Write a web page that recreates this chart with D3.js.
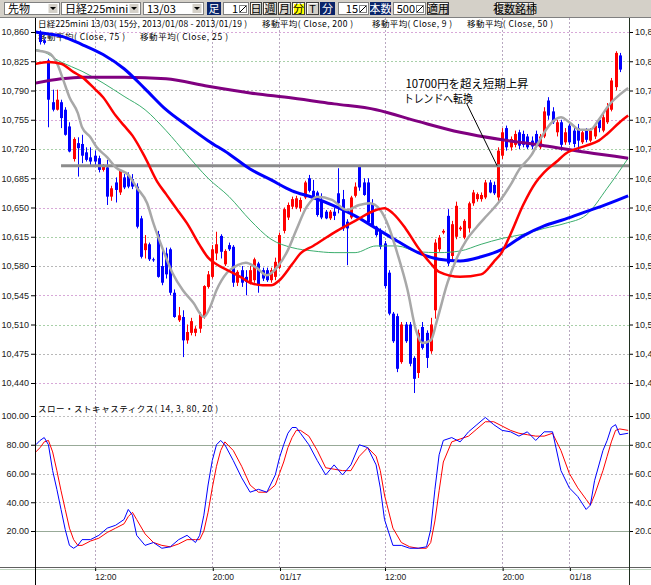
<!DOCTYPE html>
<html>
<head>
<meta charset="utf-8">
<script src="https://cdn.jsdelivr.net/npm/d3@7"></script>
<style>
  body { margin: 0; background: #fff; }
  svg { display: block; font-family: "Noto Sans CJK JP", sans-serif; }
</style>
</head>
<body>
<div id="chart"></div>
<script>
// 15 min bars, index 0 = first visible bar ; [open, high, low, close]
const candles = [
  [10858,10862,10845,10848],[10850,10852,10845,10847],[10826,10828,10746,10779],[10776,10791,10765,10767],
  [10767,10791,10766,10779],[10776,10779,10745,10757],[10767,10770,10736,10737],[10747,10752,10716,10717],
  [10708,10734,10705,10732],[10727,10734,10687,10721],[10726,10737,10703,10712],[10716,10722,10705,10707],
  [10710,10722,10700,10705],[10712,10718,10700,10705],[10709,10712,10692,10695],[10695,10702,10693,10701],
  [10698,10707,10653,10663],[10663,10676,10658,10673],[10680,10686,10656,10671],[10668,10696,10665,10694],
  [10686,10690,10672,10674],[10689,10692,10673,10675],[10684,10690,10672,10675],[10675,10679,10625,10627],
  [10637,10640,10589,10591],[10599,10617,10589,10607],[10606,10608,10586,10588],[10588,10590,10585,10587],
  [10618,10622,10566,10567],[10580,10603,10557,10560],[10595,10602,10565,10570],[10600,10602,10545,10548],
  [10548,10552,10518,10519],[10515,10531,10513,10521],[10519,10527,10471,10491],[10491,10510,10487,10501],
  [10500,10518,10497,10514],[10500,10508,10496,10505],[10505,10525,10500,10522],[10519,10557,10517,10556],
  [10555,10574,10553,10570],[10567,10605,10565,10600],[10595,10621,10587,10606],[10616,10618,10589,10597],
  [10582,10600,10580,10598],[10605,10608,10598,10600],[10603,10605,10555,10560],[10560,10575,10556,10573],
  [10575,10580,10555,10560],[10567,10575,10545,10561],[10561,10580,10558,10575],[10563,10590,10560,10588],
  [10583,10585,10548,10557],[10575,10578,10562,10565],[10575,10578,10561,10563],[10563,10578,10560,10575],
  [10567,10590,10563,10585],[10578,10620,10576,10617],[10622,10650,10619,10648],[10638,10656,10635,10653],
  [10651,10663,10648,10660],[10650,10664,10648,10661],[10649,10662,10645,10659],[10662,10682,10660,10680],
  [10685,10689,10668,10670],[10670,10683,10659,10660],[10668,10670,10639,10641],[10658,10667,10636,10638],
  [10645,10647,10636,10637],[10637,10647,10635,10645],[10645,10650,10635,10640],[10667,10697,10643,10655],
  [10660,10671,10622,10625],[10633,10636,10581,10625],[10638,10664,10636,10662],[10664,10680,10662,10675],
  [10700,10701,10670,10674],[10680,10685,10664,10665],[10680,10685,10630,10632],[10655,10660,10627,10629],
  [10627,10628,10615,10617],[10622,10625,10600,10603],[10607,10610,10553,10556],[10572,10575,10521,10523],
  [10523,10525,10488,10490],[10520,10523,10453,10457],[10465,10513,10463,10510],[10510,10513,10488,10490],
  [10510,10513,10460,10463],[10470,10472,10428,10445],[10452,10504,10446,10500],[10507,10513,10480,10482],
  [10500,10503,10458,10470],[10478,10518,10475,10510],[10527,10612,10517,10608],[10600,10617,10597,10614],
  [10620,10624,10618,10622],[10640,10648,10580,10583],[10592,10634,10587,10630],[10615,10657,10612,10652],
  [10624,10628,10622,10626],[10614,10636,10612,10634],[10625,10657,10620,10655],[10655,10671,10652,10668],
  [10660,10668,10657,10666],[10660,10668,10657,10665],[10662,10683,10660,10680],[10680,10683,10667,10668],
  [10677,10681,10665,10667],[10662,10722,10658,10718],[10712,10745,10708,10740],[10745,10748,10718,10722],
  [10722,10735,10718,10732],[10725,10742,10722,10738],[10740,10743,10720,10724],[10738,10742,10722,10725],
  [10735,10738,10720,10722],[10730,10735,10720,10723],[10738,10742,10722,10725],[10722,10738,10720,10735],
  [10735,10770,10733,10765],[10778,10782,10755,10760],[10765,10770,10750,10752],[10740,10755,10735,10752],
  [10752,10755,10718,10725],[10728,10745,10725,10740],[10748,10752,10725,10728],[10742,10746,10722,10726],
  [10745,10750,10718,10730],[10728,10742,10726,10740],[10742,10745,10728,10731],[10730,10745,10728,10742],
  [10735,10750,10732,10748],[10755,10758,10740,10745],[10742,10762,10740,10758],[10752,10775,10750,10770],
  [10767,10805,10765,10802],[10794,10837,10790,10835],[10832,10835,10812,10815]
];

// moving averages: [bar index, price]
const ma200 = [[-1,10799],[5,10804],[10,10806],[20,10806],[30,10804],[40,10795],[50,10787],[60,10781],
  [70,10774],[80,10767],[90,10753],[100,10740],[110,10731],[120,10724],[130,10716],[140,10709]];
const ma75 = [[-1,10860],[0,10859],[5,10855],[10,10845],[15,10833],[20,10816],[25,10792],[30,10767],
  [35,10748],[40,10730],[45,10714],[50,10696],[55,10683],[60,10670],[65,10662],[70,10652],[75,10640],
  [80,10625],[85,10610],[90,10596],[95,10588],[100,10586],[105,10591],[110,10600],[115,10616],
  [120,10628],[125,10636],[130,10645],[135,10654],[140,10664]];
const ma25 = [[-1,10822],[2,10824],[5,10822],[8,10812],[10,10806],[13,10792],[15,10782],[18,10760],
  [20,10748],[22,10736],[25,10710],[28,10680],[30,10666],[33,10645],[35,10631],[38,10605],[40,10590],
  [42,10582],[45,10574],[48,10566],[50,10560],[53,10557],[55,10557],[57,10563],[60,10582],[62,10595],
  [65,10604],[70,10620],[75,10634],[80,10647],[82,10649],[84,10643],[87,10625],[90,10602],[93,10583],
  [95,10573],[100,10567],[105,10570],[108,10585],[110,10597],[112,10618],[115,10653],[118,10680],
  [120,10692],[123,10705],[125,10714],[130,10724],[133,10730],[135,10738],[138,10752],[140,10760]];
const ma50 = [[-1,10839],[0,10838],[5,10824],[10,10813],[15,10799],[20,10783],[25,10767],[30,10742],
  [35,10713],[40,10685],[45,10663],[50,10635],[55,10612],[60,10602],[65,10598],[70,10596],[75,10596],
  [80,10604],[85,10604],[90,10597],[95,10596],[100,10598],[105,10606],[110,10613],[115,10618],
  [120,10625],[125,10631],[130,10641],[135,10673],[140,10709]];
const ma9 = [[-1,10838],[2,10835],[4,10823],[5.5,10803],[7,10782],[9,10763],[10,10746],[12,10734],
  [13.5,10722],[16,10710],[18,10698],[21,10689],[23,10674],[25.5,10655],[27,10631],[29,10603],
  [31.5,10572],[34,10551],[36.5,10536],[39,10519],[40.5,10531],[42,10551],[44.5,10572],[47,10581],
  [49,10584],[51.5,10578],[54,10569],[56.5,10579],[59,10599],[61,10623],[63.5,10651],[66,10663],
  [69.5,10659],[73,10647],[76,10653],[78.5,10655],[81,10647],[83,10627],[85,10596],[87.5,10551],
  [89.5,10503],[91,10488],[93,10491],[94.5,10515],[97,10560],[99,10587],[101.5,10611],[104,10627],
  [106.5,10641],[109,10655],[112,10677],[114,10695],[117,10713],[119,10731],[121.5,10750],
  [124,10758],[126,10752],[128.5,10743],[131,10743],[133,10755],[135.5,10773],[138,10785],[140,10793]];

// slow stochastics (14,3,80,20): [bar index, value]
const stochK = [[-1,80],[0,83],[1,85],[2,80],[3,62],[4,49],[5,35],[6,21],[7,10],[8,8],[9,10],[10,14],
  [12,14],[14,17],[16,22],[18,24],[20,28],[21,35],[22,31],[23,17],[25,10],[27,12],[29,8],[31,9],[33,14],
  [35,17],[37,12],[38,17],[39,31],[40,52],[41,69],[42,80],[43,83],[44,80],[46,69],[48,57],[50,47],
  [52,49],[54,47],[56,59],[57,71],[58,80],[59,88],[60,92],[61,92],[62,88],[64,80],[66,69],[68,59],
  [70,66],[72,59],[74,66],[76,80],[78,78],[80,66],[81,50],[82,28],[84,10],[86,10],[88,8],[90,8],
  [92,9],[93,21],[94,49],[95,73],[96,83],[98,85],[100,82],[102,89],[104,94],[106,99],[108,94],
  [110,90],[112,89],[114,86],[116,89],[118,83],[120,89],[122,89],[124,62],[126,50],[128,44],[130,35],
  [131,38],[132,55],[134,76],[135,83],[136,92],[137,94],[138,87],[140,88]];
const stochD = [[-1,75],[0,78],[1,82],[2,83],[3,75],[4,62],[5,48],[6,35],[7,22],[8,14],[9,10],[10,10],
  [12,13],[14,15],[16,19],[18,22],[20,25],[21,30],[22,33],[23,28],[25,18],[27,12],[29,10],[31,9],
  [33,11],[35,14],[37,14],[38,14],[39,20],[40,33],[41,50],[42,65],[43,76],[44,82],[46,76],[48,65],
  [50,52],[52,47],[54,47],[56,52],[57,60],[58,68],[59,78],[60,85],[61,90],[62,90],[64,86],[66,76],
  [68,64],[70,63],[72,62],[74,62],[76,72],[78,78],[80,72],[81,62],[82,45],[84,22],[86,12],[88,9],
  [90,8],[92,8],[93,12],[94,27],[95,48],[96,68],[98,82],[100,84],[102,86],[104,91],[106,96],[108,96],
  [110,93],[112,90],[114,88],[116,87],[118,86],[120,86],[122,88],[124,76],[126,60],[128,50],[130,42],
  [131,38],[132,45],[134,62],[135,72],[136,82],[137,90],[138,91],[140,90]];

const priceTicks = [10440,10475,10510,10545,10580,10615,10650,10685,10720,10755,10790,10825,10860];
const stochTicks = [20,40,60,80,100];
const stochSolid = [80,20];
const timeTickIdx = [13,41,57,82,110,126];
const timeTickLabels = ["12:00","20:00","01/17","12:00","20:00","01/18"];
const trendLevel = {price: 10700, from: 5, to: 140.2};
const noteLines = ["10700円を超え短期上昇", "トレンドへ転換"];
const notePos = [[87, 10793], [86.6, 10775]];
const noteArrow = [[101.6, 10774], [108.8, 10700]];

const W = 651, H = 585;
const L = 35, R = 629;
const svg = d3.select("#chart").append("svg").attr("width", W).attr("height", H);

const x = d3.scaleLinear().domain([-1.2, 140.2]).range([L, R]);
const y = d3.scaleLinear().domain([10440, 10860]).range([383, 32]);
const ys = d3.scaleLinear().domain([0, 100]).range([559.75, 416]);

svg.append("rect").attr("width", W).attr("height", H).attr("fill", "#fff");

// ---- toolbar ----
const tb = svg.append("g").attr("font-size", 11);
tb.append("rect").attr("width", W).attr("height", 17).attr("fill", "#d4d0c8");
tb.append("line").attr("x1", 0).attr("x2", W).attr("y1", 17.5).attr("y2", 17.5).attr("stroke", "#808080");

function combo(label, x0, x1) {
  tb.append("rect").attr("x", x0 + .5).attr("y", 2.5).attr("width", x1 - x0).attr("height", 12)
    .attr("fill", "#fff").attr("stroke", "#808080");
  tb.append("text").attr("x", x0 + 4).attr("y", 13).text(label);
  tb.append("rect").attr("x", x1 - 11).attr("y", 3.5).attr("width", 10).attr("height", 10)
    .attr("fill", "#d4d0c8").attr("stroke", "#fff");
  tb.append("path").attr("d", `M${x1 - 9},7h6l-3,3z`).attr("fill", "#000");
}
function navy(label, x0, x1) {
  tb.append("rect").attr("x", x0).attr("y", 2).attr("width", x1 - x0).attr("height", 13).attr("fill", "#0a246a");
  tb.append("text").attr("x", (x0 + x1) / 2).attr("y", 13).attr("text-anchor", "middle")
    .attr("fill", "#fff").text(label);
}
function field(label, x0, x1) {
  tb.append("rect").attr("x", x0 + .5).attr("y", 2.5).attr("width", x1 - x0).attr("height", 12)
    .attr("fill", "#fff").attr("stroke", "#808080");
  tb.append("text").attr("x", x1 - 10).attr("y", 13).attr("text-anchor", "end").text(label);
  tb.append("rect").attr("x", x1 - 8.5).attr("y", 5.5).attr("width", 7).attr("height", 7)
    .attr("fill", "none").attr("stroke", "#808080");
  tb.append("line").attr("x1", x1 - 8).attr("y1", 12).attr("x2", x1 - 2).attr("y2", 6).attr("stroke", "#000");
}
function button(label, x0, x1, bg) {
  tb.append("rect").attr("x", x0 + .5).attr("y", 2.5).attr("width", x1 - x0).attr("height", 12)
    .attr("fill", bg || "#d4d0c8").attr("stroke", "#404040");
  tb.append("path").attr("d", `M${x0 + 1.5},14V3.5H${x1 - .5}`).attr("fill", "none").attr("stroke", "#fff");
  tb.append("text").attr("x", (x0 + x1) / 2 + .5).attr("y", 13).attr("text-anchor", "middle").text(label);
}
combo("先物", 4, 59);
combo("日経225mini", 61, 140);
combo("13/03", 143, 203);
navy("足", 207, 221);
field("1", 223, 248);
button("日", 250, 261);
button("週", 263, 276);
button("月", 278, 290);
button("分", 292, 304, "#ffff00");
button("T", 306, 318);
navy("分", 320, 335);
field("15", 338, 368);
navy("本数", 370, 391);
field("500", 393, 425);
button("適用", 427, 448);
button("複数銘柄", 496, 533);

// ---- grids ----
const grid = svg.append("g");
const gridCols = ["#d8a8d8", "#b8b8b8", "#a8d0a8"];
grid.selectAll(".hg").data(priceTicks).join("line")
  .attr("x1", L).attr("x2", R)
  .attr("y1", d => Math.round(y(d)) + .5).attr("y2", d => Math.round(y(d)) + .5)
  .attr("stroke", (d, i) => gridCols[i % 3]).attr("stroke-dasharray", "2,2");
grid.selectAll(".vg").data(timeTickIdx).join("line")
  .attr("x1", d => Math.round(x(d)) + .5).attr("x2", d => Math.round(x(d)) + .5)
  .attr("y1", 18).attr("y2", 567)
  .attr("stroke", "#b8a8c0").attr("stroke-dasharray", "2,2");
grid.selectAll(".sg").data(stochTicks).join("line")
  .attr("x1", L).attr("x2", R)
  .attr("y1", d => Math.round(ys(d)) + .5).attr("y2", d => Math.round(ys(d)) + .5)
  .attr("stroke", d => stochSolid.includes(d) ? "#98aa98" : "#c0c0c0")
  .attr("stroke-dasharray", d => stochSolid.includes(d) ? null : "2,2");

// ---- legend text ----
const leg = svg.append("g").attr("font-size", 8.5).attr("fill", "#000");
const legendItems = [
  ["日経225mini 13/03( 15分, 2013/01/08 - 2013/01/19 )", 38, 27, 209],
  ["移動平均( Close, 200 )", 262, 27, 91],
  ["移動平均( Close, 9 )", 372, 27, 80],
  ["移動平均( Close, 50 )", 467, 27, 86],
  ["移動平均( Close, 75 )", 38, 39.5, 87],
  ["移動平均( Close, 25 )", 140, 39.5, 88],
  ["スロー・ストキャスティクス( 14, 3, 80, 20 )", 38, 412, 180]
];
leg.selectAll("text").data(legendItems).join("text")
  .attr("x", d => d[1]).attr("y", d => d[2])
  .attr("textLength", d => d[3]).attr("lengthAdjust", "spacing")
  .text(d => d[0]);

// ---- price panel ----
svg.append("clipPath").attr("id", "pc").append("rect")
  .attr("x", L + 1).attr("y", 18).attr("width", R - L - 1).attr("height", 382);
const plot = svg.append("g").attr("clip-path", "url(#pc)");

const up = d => d[3] >= d[0];
plot.selectAll(".wick").data(candles).join("line")
  .attr("x1", (d, i) => Math.round(x(i)) + .5).attr("x2", (d, i) => Math.round(x(i)) + .5)
  .attr("y1", d => y(d[1])).attr("y2", d => y(d[2]))
  .attr("stroke", d => up(d) ? "#ff0000" : "#0000ff").attr("stroke-width", 1);
plot.selectAll(".body").data(candles).join("rect")
  .attr("x", (d, i) => Math.round(x(i)) - 1)
  .attr("width", 3)
  .attr("y", d => y(Math.max(d[0], d[3])))
  .attr("height", d => Math.max(1, y(Math.min(d[0], d[3])) - y(Math.max(d[0], d[3]))))
  .attr("fill", d => up(d) ? "#ff0000" : "#0000ff");

plot.append("line")
  .attr("x1", x(trendLevel.from)).attr("x2", x(trendLevel.to))
  .attr("y1", y(trendLevel.price)).attr("y2", y(trendLevel.price))
  .attr("stroke", "#8c8c8c").attr("stroke-width", 3);

const line = d3.line().x(d => x(d[0])).y(d => y(d[1])).curve(d3.curveMonotoneX);
const maSeries = [
  [ma50, "#3cae6e", 1],
  [ma200, "#800080", 3],
  [ma75, "#0000ff", 3],
  [ma9, "#a8a8a8", 2.5],
  [ma25, "#ff0000", 2.5]
];
plot.selectAll(".ma").data(maSeries).join("path")
  .attr("d", d => line(d[0])).attr("fill", "none")
  .attr("stroke", d => d[1]).attr("stroke-width", d => d[2]).attr("stroke-linejoin", "round");

// annotation
const note = svg.append("g").attr("font-size", 11.5).attr("fill", "#000");
note.selectAll("text").data(noteLines).join("text")
  .attr("x", (d, i) => x(notePos[i][0])).attr("y", (d, i) => y(notePos[i][1]))
  .attr("textLength", (d, i) => i === 0 ? 123 : 69).attr("lengthAdjust", "spacingAndGlyphs")
  .text(d => d);
note.append("line")
  .attr("x1", x(noteArrow[0][0])).attr("y1", y(noteArrow[0][1]))
  .attr("x2", x(noteArrow[1][0])).attr("y2", y(noteArrow[1][1]))
  .attr("stroke", "#000").attr("stroke-width", 1);

// ---- stochastics ----
svg.append("clipPath").attr("id", "sc").append("rect")
  .attr("x", L + 1).attr("y", 400).attr("width", R - L - 1).attr("height", 166);
const st = svg.append("g").attr("clip-path", "url(#sc)");
const sline = d3.line().x(d => x(d[0])).y(d => ys(d[1]));
st.append("path").attr("d", sline(stochD)).attr("fill", "none").attr("stroke", "#ff0000").attr("stroke-width", 1);
st.append("path").attr("d", sline(stochK)).attr("fill", "none").attr("stroke", "#0000ff").attr("stroke-width", 1);

// ---- axes ----
const axFont = g => g.attr("font-family", "'Liberation Sans', sans-serif").attr("font-size", 9);
const fmtP = d3.format(",");
svg.append("g").attr("transform", `translate(${L},0)`)
  .call(d3.axisLeft(y).tickValues(priceTicks).tickFormat(fmtP).tickSize(4).tickPadding(2))
  .call(axFont).call(g => g.select(".domain").remove());
svg.append("g").attr("transform", `translate(${R},0)`)
  .call(d3.axisRight(y).tickValues(priceTicks).tickFormat(fmtP).tickSize(4).tickPadding(2))
  .call(axFont).call(g => g.select(".domain").remove());
const fmtS = d3.format(".2f");
svg.append("g").attr("transform", `translate(${L},0)`)
  .call(d3.axisLeft(ys).tickValues(stochTicks).tickFormat(fmtS).tickSize(4).tickPadding(2))
  .call(axFont).call(g => g.select(".domain").remove());
svg.append("g").attr("transform", `translate(${R},0)`)
  .call(d3.axisRight(ys).tickValues(stochTicks).tickFormat(fmtS).tickSize(4).tickPadding(2))
  .call(axFont).call(g => g.select(".domain").remove());
svg.selectAll(".tick text").attr("fill", "#202020");

// bottom axis
svg.append("line").attr("x1", 0).attr("x2", W).attr("y1", 567.5).attr("y2", 567.5).attr("stroke", "#606060");
svg.append("line").attr("x1", 0).attr("x2", W).attr("y1", 569.5).attr("y2", 569.5).attr("stroke", "#c0d4c0");
const xa = svg.append("g").attr("transform", "translate(0,568)")
  .call(d3.axisBottom(x).tickValues(timeTickIdx).tickFormat((d, i) => timeTickLabels[i]).tickSize(3).tickPadding(3))
  .call(axFont).call(g => g.select(".domain").remove());
xa.selectAll(".tick line").attr("transform", "translate(0.5,0)");
xa.selectAll(".tick text").attr("text-anchor", "start").attr("fill", "#202020").attr("font-size", 8.5);

// frame lines
svg.append("line").attr("x1", L + .5).attr("x2", L + .5).attr("y1", 18).attr("y2", H).attr("stroke", "#000");
svg.append("line").attr("x1", R + .5).attr("x2", R + .5).attr("y1", 18).attr("y2", H).attr("stroke", "#203020");
</script>
</body>
</html>
